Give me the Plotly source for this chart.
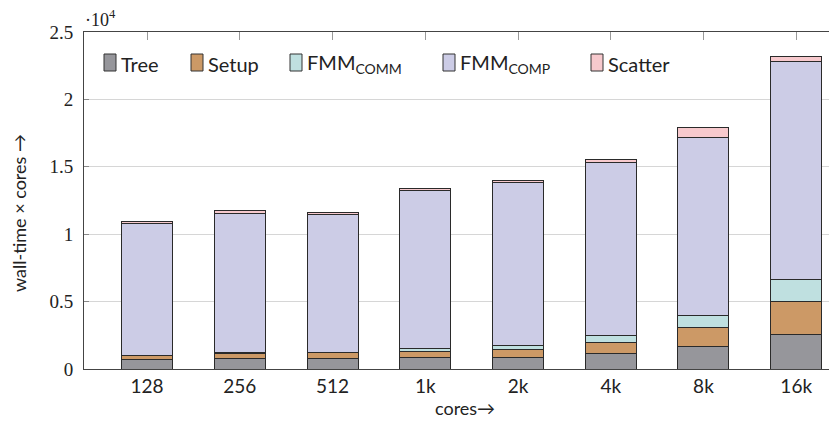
import plotly.graph_objects as go

categories = ["128", "256", "512", "1k", "2k", "4k", "8k", "16k"]
tree = [670, 790, 790, 865, 880, 1140, 1685, 2575]
setup = [320, 370, 420, 445, 580, 840, 1380, 2420]
fmm_comm = [30, 40, 40, 220, 320, 495, 915, 1630]
fmm_comp = [9740, 10350, 10180, 11700, 12045, 12840, 13185, 16200]
scatter = [150, 220, 170, 125, 175, 200, 720, 340]

y_tickvals = [0, 5000, 10000, 15000, 20000, 25000]
y_ticktext = ["0", "0.5", "1", "1.5", "2", "2.5"]

series_names = ["Tree", "Setup", "FMM<sub>COMM</sub>", "FMM<sub>COMP</sub>", "Scatter"]
series_values = [tree, setup, fmm_comm, fmm_comp, scatter]
series_colors = ["#96969b", "#cc9966", "#bfe0e0", "#ccccE6", "#f7c9cd"]
legend_x = [104, 191, 290, 443, 591]  # screen px of legend key left edges

# page has an 8px body margin; work in screen coordinates minus 8
OFF = 8
W, H = 837 - OFF, 421 - OFF
L, R, T, B = 84 - OFF, 0, 32 - OFF, 421 - 369
PW, PH = W - L - R, H - T - B


def px(xs):
    return (xs - OFF - L) / PW


def py(ys):
    return (H - B - (ys - OFF)) / PH


fig = go.Figure()
for name, vals, col in zip(series_names, series_values, series_colors):
    fig.add_trace(go.Bar(
        x=list(range(len(categories))), y=vals, name=name,
        marker=dict(color=col, line=dict(color="#2a2a2a", width=1)),
        width=0.55, showlegend=False,
    ))

shapes = []
annotations = []
for name, col, lx in zip(series_names, series_colors, legend_x):
    shapes.append(dict(type="rect", xref="paper", yref="paper",
                       x0=px(lx), x1=px(lx + 12), y0=py(71), y1=py(54),
                       fillcolor=col, line=dict(color="#333", width=1)))
    annotations.append(dict(text=name, xref="paper", yref="paper",
                            x=px(lx + 15), y=py(64), xanchor="left", yanchor="middle",
                            showarrow=False, font=dict(size=20)))

annotations += [
    dict(text="·10<sup>4</sup>", xref="paper", yref="paper",
         x=px(83), y=py(19),
         xanchor="left", yanchor="middle", showarrow=False,
         font=dict(family="Liberation Serif, DejaVu Serif", size=18)),
    dict(text="cores→", xref="paper", yref="paper",
         x=px(465), y=py(408),
         xanchor="center", yanchor="middle", showarrow=False,
         font=dict(size=18)),
    dict(text="wall-time × cores →", xref="paper", yref="paper",
         x=px(19), y=py(213), textangle=-90,
         xanchor="center", yanchor="middle", showarrow=False,
         font=dict(size=18)),
]

fig.update_layout(
    width=W, height=H,
    margin=dict(l=L, r=R, t=T, b=B, autoexpand=False),
    barmode="stack",
    plot_bgcolor="white", paper_bgcolor="white",
    font=dict(family="Lato, DejaVu Sans", size=18, color="#222"),
    showlegend=False,
    xaxis=dict(
        range=[-0.68, 7.44], tickmode="array", automargin=False,
        tickvals=list(range(len(categories))), ticktext=categories,
        showline=True, linecolor="#444", linewidth=1, mirror="ticks",
        ticks="inside", ticklen=8, tickcolor="#999", showgrid=False,
        layer="below traces", zeroline=False,
        tickfont=dict(size=19),
    ),
    yaxis=dict(
        range=[0, 25000], tickvals=y_tickvals, ticktext=y_ticktext, automargin=False,
        showline=True, linecolor="#444", linewidth=1,
        ticks="inside", ticklen=5, tickcolor="#888",
        showgrid=True, gridcolor="#d6d6d6", gridwidth=1, zeroline=False,
        layer="below traces", ticklabelstandoff=6,
        tickfont=dict(family="Liberation Serif, DejaVu Serif", size=19),
    ),
    shapes=shapes,
    annotations=annotations,
)

fig.write_html("out.html")
